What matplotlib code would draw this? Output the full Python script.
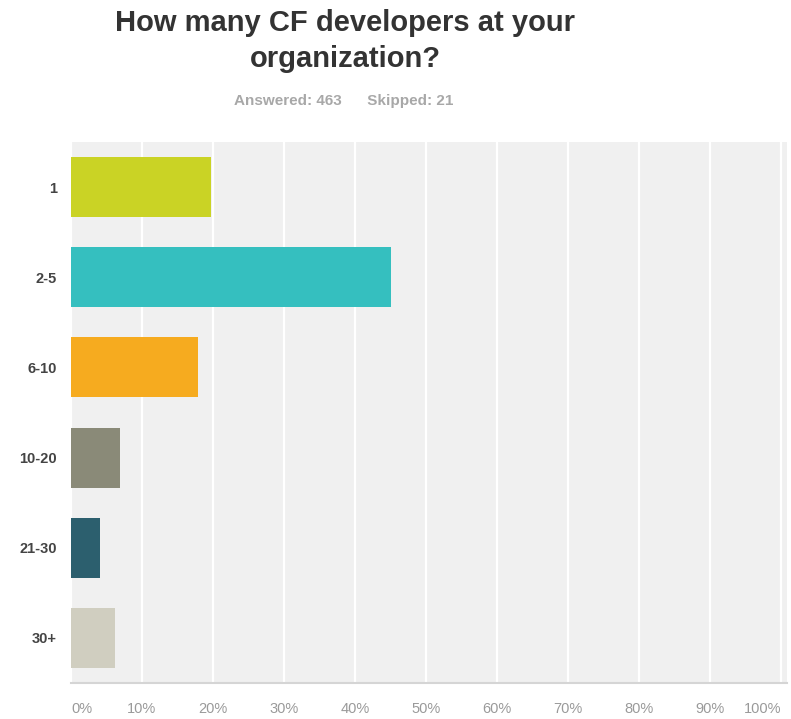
import numpy as np
import matplotlib.pyplot as plt
import matplotlib as mpl

mpl.rcParams.update({
    "font.family": ["Liberation Sans", "DejaVu Sans"],
})

# survey answers
CATEGORIES = ["1", "2-5", "6-10", "10-20", "21-30", "30+"]
PERCENTS = [19.65, 45.14, 17.93, 6.91, 4.10, 6.26]
COLORS = ["#cad325", "#35bfbf", "#f6ab1f", "#8a8a78", "#2c5f6e", "#d0cec0"]
XTICKS = [0, 10, 20, 30, 40, 50, 60, 70, 80, 90, 100]
TITLE = "How many CF developers at your\norganization?"
SUBTITLE = "Answered: 463      Skipped: 21"

W, H = 791, 719
fig = plt.figure(figsize=(W / 100, H / 100), dpi=100)
fig.patch.set_facecolor("white")

ax = fig.add_axes([71 / W, 1 - 683 / H, 716 / W, (683 - 142) / H])
ax.set_facecolor("#f0f0f0")

y = np.arange(len(CATEGORIES))
ax.barh(y, PERCENTS, height=0.667, color=COLORS, zorder=3)

ax.set_ylim(len(CATEGORIES) - 0.5, -0.5)
ax.set_xlim(0, 100.85)
ax.set_yticks(y)
ax.set_yticklabels(CATEGORIES, fontsize=10.5, fontweight="bold", color="#444444")
ax.set_xticks(XTICKS)
xlabels = ax.set_xticklabels([f"{t}%" for t in XTICKS], fontsize=10.5, color="#9a9a9a")
# keep the end labels inside the figure
xlabels[0].set_horizontalalignment("left")
xlabels[-1].set_horizontalalignment("right")
ax.tick_params(axis="both", length=0)
ax.tick_params(axis="y", pad=10)
ax.tick_params(axis="x", pad=14)

ax.grid(axis="x", color="white", linewidth=1.6, zorder=1)
ax.grid(axis="y", visible=False)
for side in ("top", "right", "left"):
    ax.spines[side].set_visible(False)
ax.spines["bottom"].set_color("#d5d5d5")
ax.spines["bottom"].set_linewidth(1.5)

fig.text(345 / W, 1 - 41 / H, TITLE, ha="center", va="center",
         fontsize=21, fontweight="bold", color="#333333", linespacing=1.38)
fig.text(344 / W, 1 - 101 / H, SUBTITLE, ha="center", va="center",
         fontsize=11, fontweight="bold", color="#a8a8a8")

fig.savefig("out.png", dpi=100, facecolor="white")
